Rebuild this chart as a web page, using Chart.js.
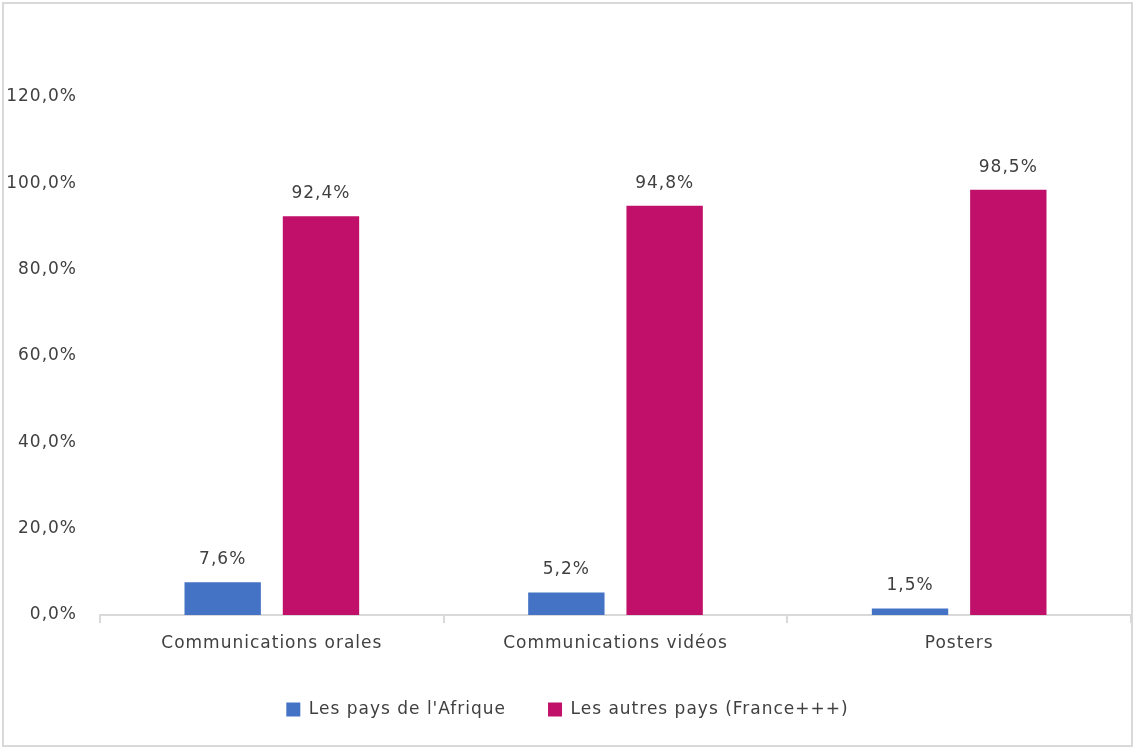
<!DOCTYPE html>
<html>
<head>
<meta charset="utf-8">
<script src="https://cdn.jsdelivr.net/npm/chart.js@4/dist/chart.umd.min.js"></script>
<style>
  html, body { margin: 0; padding: 0; background: #fff; }
  #cadre { position: absolute; left: 2px; top: 2px; width: 1127px; height: 741px; border: 2px solid #d9d9d9; background: #fff; }
  #cadre canvas { display: block; }
</style>
</head>
<body>
<div id="cadre"><canvas id="graficoPays" width="1127" height="741"></canvas></div>
<script>
// donnees
const categories = ['Communications orales', 'Communications vidéos', 'Posters'];
const paysAfrique = [7.6, 5.2, 1.5];
const autresPays = [92.4, 94.8, 98.5];
const nomsSeries = ["Les pays de l'Afrique", 'Les autres pays (France+++)'];
const ticksY = [0, 20, 40, 60, 80, 100, 120];

const police = "'DejaVu Sans', sans-serif";
const gris = '#404040';

function formatPct(v, dec) {
    return v.toFixed(dec).replace('.', ',') + '%';
}

// texte un peu plus espace comme dans l'original
// (le canvas perd son etat quand Chart.js le redimensionne, donc on le remet a chaque fois)
const pluginEspacement = {
    id: 'espacement',
    beforeUpdate(chart) { chart.ctx.letterSpacing = '1px'; },
    beforeLayout(chart) { chart.ctx.letterSpacing = '1px'; },
    beforeDraw(chart) { chart.ctx.letterSpacing = '1px'; }
};

// etiquettes au dessus des barres
const pluginEtiquettes = {
    id: 'etiquettes',
    afterDatasetsDraw(chart) {
        const ctx = chart.ctx;
        ctx.save();
        ctx.font = '17px ' + police;
        ctx.fillStyle = gris;
        ctx.textAlign = 'center';
        ctx.textBaseline = 'bottom';
        chart.data.datasets.forEach((ds, i) => {
            chart.getDatasetMeta(i).data.forEach((bar, j) => {
                ctx.fillText(formatPct(ds.data[j], 1), bar.x, bar.y - 14);
            });
        });
        ctx.restore();
    }
};

const ctx = document.getElementById('graficoPays').getContext('2d');
new Chart(ctx, {
    type: 'bar',
    data: {
        labels: categories,
        datasets: [
            { label: nomsSeries[0], data: paysAfrique, backgroundColor: '#4472C4' },
            { label: nomsSeries[1], data: autresPays, backgroundColor: '#C0106A' }
        ]
    },
    options: {
        responsive: false,
        animation: false,
        categoryPercentage: 0.572,
        barPercentage: 0.777,
        layout: { padding: { top: 93, right: 0, bottom: 17, left: 0 } },
        plugins: {
            legend: {
                position: 'bottom',
                labels: {
                    font: { family: police, size: 17 },
                    color: gris,
                    boxWidth: 14,
                    boxHeight: 14,
                    padding: 42
                }
            },
            tooltip: { enabled: false }
        },
        scales: {
            x: {
                grid: { display: true, drawOnChartArea: false, drawTicks: true, tickLength: 8, offset: true, color: '#d9d9d9', lineWidth: 2 },
                border: { display: true, color: '#d9d9d9', width: 2 },
                ticks: { font: { family: police, size: 17 }, color: gris, padding: 10 },
                afterFit(scale) { scale.height = 44; }
            },
            y: {
                min: 0,
                max: 120,
                afterBuildTicks(scale) { scale.ticks = ticksY.map(v => ({ value: v })); },
                grid: { display: false },
                border: { display: false },
                ticks: {
                    font: { family: police, size: 17 },
                    color: gris,
                    padding: 15,
                    callback: v => formatPct(v, 1)
                },
                afterFit(scale) { scale.width = 96; }
            }
        }
    },
    plugins: [pluginEspacement, pluginEtiquettes]
});
</script>
</body>
</html>
